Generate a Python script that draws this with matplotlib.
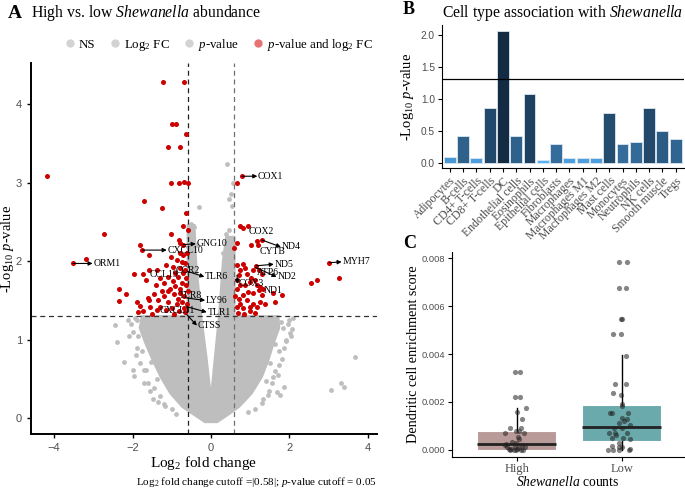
import numpy as np
import matplotlib
matplotlib.use("Agg")
import matplotlib.pyplot as plt
from matplotlib.colors import LinearSegmentedColormap, LogNorm
from matplotlib.lines import Line2D

plt.rcParams['font.family'] = ['Liberation Serif', 'DejaVu Serif']
plt.rcParams['mathtext.fontset'] = 'custom'
plt.rcParams['mathtext.rm'] = 'Liberation Serif'
plt.rcParams['mathtext.it'] = 'Liberation Serif:italic'
plt.rcParams['mathtext.bf'] = 'Liberation Serif:bold'

# ---------------- datos panel A (volcano) ----------------
red_x = [-4.19, -3.52, -3.20, -2.73, -2.35, -2.35, -2.16, -1.89, -1.81, -1.73, -1.96, -1.81,
         -1.75, -1.57, -1.73, -1.57, -1.66, -1.62, -1.57, -1.38, -1.72, -1.24, -1.22, -0.70,
         -0.99, -0.90, -0.64, -1.09, -0.78, -1.02, -0.82, -0.68, -0.60, -0.64, -0.72, -0.60,
         -1.01, -0.82, -0.79, -0.71, -0.79, -0.71, -0.62, -0.88, -0.75, -0.66, -0.96, -0.79,
         -0.66, -1.39, -1.30, -1.20, -1.10, -0.98, -0.85, -0.75, -0.65, -0.92, -1.05, -1.25,
         -1.45, -1.35, -1.20, -1.10, -0.95, -0.80, -0.68, -0.75, -0.88, -1.00, -1.15, -1.30,
         -0.62, -0.70, -0.82, -0.95, -1.55, -1.85, -1.50, -0.66, -0.60, -0.63, -1.02, -1.15,
         -0.72, -0.85, -1.40, -1.10, -0.78, -0.92,
         0.78, 0.67, 0.74, 0.81, 0.93, 0.66, 0.59, 1.02, 1.17, 1.19, 1.29, 0.66, 0.82, 0.74,
         0.87, 0.70, 0.91, 1.01, 1.08, 1.15, 1.21, 1.29, 0.66, 0.74, 0.66, 0.87, 0.99, 1.12,
         1.17, 1.25, 1.21, 1.32, 0.95, 1.08, 0.82, 0.70, 1.29, 1.59, 1.80, 1.63, 1.08, 0.91,
         0.74, 1.25, 0.99, 0.66, 0.82, 1.17, 1.38, 2.55, 2.70, 3.02, 3.25, 0.68, 0.85, 1.00,
         1.12, 0.62]
red_y = [3.08, 1.97, 2.03, 2.34, 1.64, 1.49, 1.58, 1.48, 1.43, 1.36, 1.84, 2.21,
         2.14, 2.08, 1.84, 1.89, 1.76, 1.53, 1.51, 1.38, 2.76, 2.68, 4.28, 4.28,
         3.75, 3.75, 3.62, 3.45, 3.45, 3.00, 2.99, 3.01, 3.00, 2.61, 2.45, 2.40,
         2.34, 2.27, 2.23, 2.21, 2.10, 2.08, 2.10, 2.01, 1.99, 1.97, 1.93, 1.91,
         1.89, 1.89, 1.78, 1.72, 1.80, 1.75, 1.80, 1.72, 1.78, 1.68, 1.65, 1.62,
         1.58, 1.50, 1.55, 1.48, 1.58, 1.60, 1.55, 1.48, 1.45, 1.40, 1.38, 1.42,
         1.45, 1.40, 1.36, 1.33, 1.42, 1.35, 1.33, 1.35, 1.62, 1.70, 2.05, 1.95,
         1.85, 1.52, 1.70, 1.62, 1.65, 1.85,
         3.08, 2.99, 2.45, 2.42, 2.45, 2.23, 2.17, 2.21, 2.25, 2.21, 2.27, 1.95, 1.96, 1.89,
         1.91, 1.82, 1.84, 1.78, 1.89, 1.94, 1.89, 1.84, 1.76, 1.69, 1.65, 1.69, 1.74, 1.76,
         1.69, 1.67, 1.63, 1.65, 1.61, 1.59, 1.57, 1.52, 1.57, 1.59, 1.57, 1.48, 1.46, 1.50,
         1.46, 1.48, 1.42, 1.42, 1.40, 1.42, 1.46, 1.72, 1.76, 1.98, 1.79, 1.34, 1.33, 1.36,
         1.34, 1.55]

# puntos grises dispersos (fuera de la nube densa)
ns_x = [-2.44, -2.39, -2.22, -1.99, -1.96, -1.47, -1.34, -2.05, -2.10, -1.88, -1.72, -1.55,
        3.66, 3.06, 3.31, 3.38, 2.07, 2.02, 1.84, 1.86, 1.67, 1.75, 1.58, 1.62, 2.00, 1.90,
        1.72, 0.40, 0.50, 0.45, 0.54, 0.57, -0.31, -0.52, -0.48, -0.44, 0.38, 0.45, 0.30,
        -0.35, -1.20, 1.30, 1.45, -1.65,
        -2.12, -1.95, -2.00, -1.90, -1.76, -1.80, -1.70, -1.60, -1.45, -1.30, -1.18, -1.00,
        -0.90, -1.62, -1.52, -1.38, -1.85, -1.92,
        1.95, 2.05, 1.86, 1.80, 1.72, 1.55, 1.47, 1.32, 1.12, 0.95, 2.10, 1.62, 1.50, 1.40,
        1.78, 1.70, 1.92]
ns_y = [1.19, 0.97, 0.71, 0.61, 0.54, 0.24, 0.21, 1.20, 1.05, 1.25, 0.45, 0.35,
        0.78, 0.36, 0.45, 0.40, 1.13, 1.08, 1.15, 0.40, 0.34, 0.30, 0.52, 0.60, 1.25, 1.00,
        0.85, 3.24, 2.86, 2.79, 2.70, 3.00, 2.69, 2.47, 2.45, 2.44, 2.35, 2.40, 2.10,
        2.20, 0.18, 0.20, 0.30, 0.62,
        1.25, 1.28, 1.10, 0.90, 0.85, 0.70, 0.62, 0.45, 0.38, 0.28, 0.15, 0.12,
        0.05, 0.95, 0.72, 0.50, 1.05, 0.80,
        1.20, 1.05, 0.90, 0.75, 0.68, 0.45, 0.35, 0.25, 0.12, 0.08, 1.28, 0.95, 0.70, 0.48,
        1.22, 0.55, 0.98]

# contorno de la nube gris densa
cloud_x = [0.15, 0.42, 0.70, 1.02, 1.28, 1.45, 1.58, 1.72, 1.70, 0.58, 0.58, 0.40, 0.32,
           0.22, 0.12, 0.0, -0.14, -0.27, -0.40, -0.44, -0.58, -0.58, -1.75, -1.80, -1.66,
           -1.48, -1.27, -1.02, -0.72, -0.42, -0.15]
cloud_y = [-0.04, 0.05, 0.15, 0.32, 0.53, 0.75, 0.96, 1.15, 1.29, 1.29, 2.30, 2.30, 2.00,
           1.30, 0.80, 0.18, 0.80, 1.30, 2.00, 2.45, 2.45, 1.29, 1.29, 1.15, 0.96,
           0.75, 0.53, 0.32, 0.15, 0.05, -0.04]

# etiquetas: gen, x punto, y punto, x texto, y texto, flecha
genes = ["COX1", "COX2", "CYTB", "ND4", "MYH7", "ND5", "ATP6", "ND2", "COX3", "ND1",
         "GNG10", "CXCL10", "ORM1", "CCL19", "CCR2", "TLR6", "TLR8", "LY96", "CXCL11",
         "TLR1", "CTSS"]
gene_px = [0.79, 0.93, 1.19, 1.29, 3.02, 1.15, 1.21, 1.13, 0.66, 1.32,
           -0.71, -1.75, -3.52, -1.57, -0.88, -0.60, -0.80, -0.62, -1.30, -0.62, -0.62]
gene_py = [3.08, 2.45, 2.21, 2.27, 1.98, 1.94, 1.89, 1.92, 1.82, 1.65,
           2.21, 2.14, 1.97, 1.89, 1.91, 1.87, 1.57, 1.53, 1.40, 1.42, 1.32]
gene_tx = [1.20, 0.95, 1.23, 1.80, 3.35, 1.62, 1.18, 1.69, 0.70, 1.35,
           -0.37, -1.11, -3.00, -1.56, -0.90, -0.15, -0.83, -0.13, -1.32, -0.09, -0.34]
gene_ty = [3.08, 2.38, 2.12, 2.18, 1.99, 1.96, 1.86, 1.80, 1.71, 1.62,
           2.22, 2.14, 1.97, 1.83, 1.88, 1.80, 1.56, 1.50, 1.37, 1.35, 1.18]
gene_arrow = [True, False, False, True, True, True, False, True, True, False,
              True, True, True, False, False, True, False, True, False, True, True]

# ---------------- datos panel B ----------------
cell_types = ["Adipocytes", "B-cells", "CD4+ T-cells", "CD8+ T-cells", "DC", "Endothelial cells",
              "Eosinophils", "Epithelial cells", "Fibroblasts", "Macrophages", "Macrophages M1",
              "Macrophages M2", "Mast cells", "Monocytes", "Neutrophils", "NK cells",
              "Smooth muscle", "Tregs"]
neg_log_p = [0.09, 0.41, 0.07, 0.85, 2.06, 0.41, 1.07, 0.04, 0.30, 0.07, 0.07, 0.07,
             0.78, 0.30, 0.32, 0.85, 0.49, 0.37]

# ---------------- datos panel C ----------------
groups = ["High", "Low"]
box_q1 = [0.0000, 0.00037]
box_med = [0.00025, 0.00096]
box_q3 = [0.00080, 0.00186]
box_whislo = [0.0000, 0.0000]
box_whishi = [0.00175, 0.00395]

high_x = [0.98, 1.03, 0.98, 1.03, 1.085, 1.00, 1.05, 0.94, 1.04, 0.99, 1.02, 0.89, 1.07, 1.01,
          1.02, 0.96, 0.99, 0.89, 0.91, 0.93, 0.94, 0.97, 0.99, 1.00, 1.02, 1.04, 1.06, 0.98,
          1.05, 1.08, 0.95, 0.90]
high_y = [0.00326, 0.00326, 0.00220, 0.00220, 0.00176, 0.00158, 0.00128, 0.00090, 0.00090,
          0.00079, 0.00079, 0.00069, 0.00072, 0.00055, 0.00044, 0.00033, 0.00030, 0.00020,
          0.00010, 0.00003, 0.0, 0.0, 0.0, 0.00002, 0.00008, 0.0, 0.0, 0.00017, 0.00020,
          0.00010, 0.00005, 0.00025]
low_x = [1.975, 2.054, 1.975, 2.04, 1.99, 2.0, 1.92, 1.99, 2.04, 1.94, 2.04, 1.92, 1.99, 2.005,
         2.0, 1.89, 1.91, 2.06, 2.0, 1.97, 2.05, 2.08, 1.93, 2.0, 1.88, 1.94, 2.05, 1.91, 2.01,
         2.08, 1.97, 1.91, 1.97, 1.87, 1.92, 2.0, 2.08, 2.07, 1.97, 1.95, 2.02]
low_y = [0.00786, 0.00786, 0.00675, 0.00675, 0.00546, 0.00546, 0.00485, 0.00485, 0.00394,
         0.00277, 0.00277, 0.00237, 0.00229, 0.00192, 0.00183, 0.00154, 0.00154, 0.00155,
         0.00134, 0.00114, 0.00128, 0.00104, 0.00090, 0.00090, 0.00069, 0.00069, 0.00069,
         0.00049, 0.00049, 0.00045, 0.00030, 0.00015, 0.0, 0.0, 0.0, 0.00010, 0.00005, 0.0,
         0.00010, 0.00060, 0.00120]

# ---------------- figura ----------------
fig = plt.figure(figsize=(6.85, 4.9), dpi=100)
tick_grey = '#4D4D4D'

# ---- panel A ----
axA = fig.add_axes([0.0453, 0.1143, 0.505, 0.757])
axA.fill(cloud_x, cloud_y, color='#BEBEBE', lw=2.5, ec='#BEBEBE', zorder=1)
axA.scatter(ns_x, ns_y, s=12, color='#BEBEBE', lw=0, zorder=1)
axA.scatter(red_x, red_y, s=13, color='#CD0000', lw=0, zorder=3)
axA.axvline(-0.58, color='#222222', ls=(0, (4, 3)), lw=0.9, zorder=2)
axA.axvline(0.58, color='#707070', ls=(0, (4, 3)), lw=0.9, zorder=2)
axA.axhline(-np.log10(0.05), color='#333333', ls=(0, (4, 3)), lw=0.9, zorder=2)
for g, px, py, tx, ty, arr in zip(genes, gene_px, gene_py, gene_tx, gene_ty, gene_arrow):
    if arr:
        axA.annotate('', xy=(tx - 0.02, ty), xytext=(px, py),
                     arrowprops=dict(arrowstyle='-|>', color='black', lw=0.8,
                                     mutation_scale=6, shrinkA=0, shrinkB=0), zorder=4)
    axA.text(tx, ty, g, fontsize=7, ha='left', va='center', zorder=5)
axA.set_xlim(-4.59, 4.23)
axA.set_ylim(-0.2, 4.52)
axA.set_xticks([-4, -2, 0, 2, 4])
axA.set_yticks([0, 1, 2, 3, 4])
for s in ['top', 'right']:
    axA.spines[s].set_visible(False)
for s in ['left', 'bottom']:
    axA.spines[s].set_linewidth(1.4)
axA.tick_params(labelsize=8, labelcolor=tick_grey, labelfontfamily='Liberation Sans',
                length=3, width=1)
axA.set_xlabel(r'Log$_2$ fold change', fontsize=11, labelpad=1)
axA.set_ylabel(r'-Log$_{10}$ $\mathit{p}$-value', fontsize=10.5)
axA.yaxis.set_label_coords(-0.044, 0.5)

fig.text(8 / 685, 1 - 13 / 490, 'A', fontsize=14, fontweight='bold', va='center')
fig.text(31 / 685, 1 - 13 / 490, r'High vs. low $\mathit{Shewanella}$ abundance',
         fontsize=11.3, va='center')
fig.text(377 / 685, 1 - 482 / 490,
         r'Log$_2$ fold change cutoff =|0.58|; $\mathit{p}$-value cutoff = 0.05',
         fontsize=8, ha='right', va='center')

leg_handles = [Line2D([], [], ls='', marker='o', ms=6, mfc='#D3D3D3', mec='none'),
               Line2D([], [], ls='', marker='o', ms=6, mfc='#D3D3D3', mec='none'),
               Line2D([], [], ls='', marker='o', ms=6, mfc='#D3D3D3', mec='none'),
               Line2D([], [], ls='', marker='o', ms=6, mfc='#E57373', mec='none')]
leg_labels = ['NS', r'Log$_2$ FC', r'$\mathit{p}$-value', r'$\mathit{p}$-value and log$_2$ FC']
fig.legend(leg_handles, leg_labels, ncol=4, loc='center', bbox_to_anchor=(0.318, 1 - 45 / 490),
           frameon=False, fontsize=9.3, handletextpad=0.1, columnspacing=0.9, handlelength=1.2)

# ---- panel B ----
axB = fig.add_axes([0.645, 0.657, 0.353, 0.292])
cmap = LinearSegmentedColormap.from_list('gg', ['#56B1F7', '#132B43'])
norm = LogNorm(vmin=min(neg_log_p), vmax=max(neg_log_p))
xb = np.arange(len(cell_types))
axB.bar(xb, neg_log_p, width=0.9, color=cmap(norm(neg_log_p)), edgecolor='#DDE6EE', lw=0.6)
axB.axhline(1.3, color='black', lw=0.9)
axB.set_xlim(-0.6, len(cell_types) - 0.4)
axB.set_ylim(-0.083, 2.15)
axB.set_yticks([0, 0.5, 1.0, 1.5, 2.0])
axB.set_yticklabels(['0.0', '0.5', '1.0', '1.5', '2.0'])
axB.set_xticks(xb)
axB.set_xticklabels(cell_types, rotation=45, ha='right', rotation_mode='anchor',
                    fontsize=8.5, color=tick_grey)
for s in ['top', 'right']:
    axB.spines[s].set_visible(False)
axB.tick_params(axis='y', labelsize=7.3, labelcolor=tick_grey, labelfontfamily='Liberation Sans',
                length=3, pad=2)
axB.tick_params(axis='x', length=3, pad=2)
axB.set_ylabel(r'-Log$_{10}$ $\mathit{p}$-value', fontsize=10.5)
axB.yaxis.set_label_coords(-0.105, 0.5)
fig.text(403 / 685, 1 - 10 / 490, 'B', fontsize=13, fontweight='bold', va='center')
fig.text(442 / 685, 1 - 13 / 490, r'Cell type association with $\mathit{Shewanella}$',
         fontsize=11.3, va='center')

# ---- panel C ----
axC = fig.add_axes([0.660, 0.0673, 0.338, 0.418])
stats = []
for i in range(2):
    stats.append(dict(med=box_med[i], q1=box_q1[i], q3=box_q3[i],
                      whislo=box_whislo[i], whishi=box_whishi[i], fliers=[]))
bp = axC.bxp(stats, positions=[1, 2], widths=0.75, patch_artist=True, showcaps=False,
             boxprops=dict(lw=0.8, edgecolor='white'),
             medianprops=dict(color='#222222', lw=2),
             whiskerprops=dict(color='black', lw=1))
for patch, col in zip(bp['boxes'], ['#B89A98', '#6AAAAD']):
    patch.set_facecolor(col)
axC.scatter(high_x, high_y, s=14, color='#222222', alpha=0.55, lw=0, zorder=4)
axC.scatter(low_x, low_y, s=14, color='#222222', alpha=0.55, lw=0, zorder=4)
axC.set_xlim(0.385, 2.59)
axC.set_ylim(-0.00030, 0.00826)
axC.set_xticks([1, 2])
axC.set_xticklabels(groups, fontsize=9, color=tick_grey)
axC.set_yticks([0, 0.002, 0.004, 0.006, 0.008])
axC.set_yticklabels(['0.000', '0.002', '0.004', '0.006', '0.008'])
for s in ['top', 'right']:
    axC.spines[s].set_visible(False)
axC.tick_params(axis='y', labelsize=6.7, labelcolor=tick_grey, labelfontfamily='Liberation Sans',
                length=3, pad=2)
axC.tick_params(axis='x', length=3, pad=1.5)
axC.set_ylabel('Dendritic cell enrichment score', fontsize=10.2)
axC.yaxis.set_label_coords(-0.138, 0.5)
axC.set_xlabel(r'$\mathit{Shewanella}$ counts', fontsize=9.8, labelpad=-0.5)
fig.text(403 / 685, 1 - 243 / 490, 'C', fontsize=13, fontweight='bold', va='center')

fig.savefig('out.png', dpi=100)
